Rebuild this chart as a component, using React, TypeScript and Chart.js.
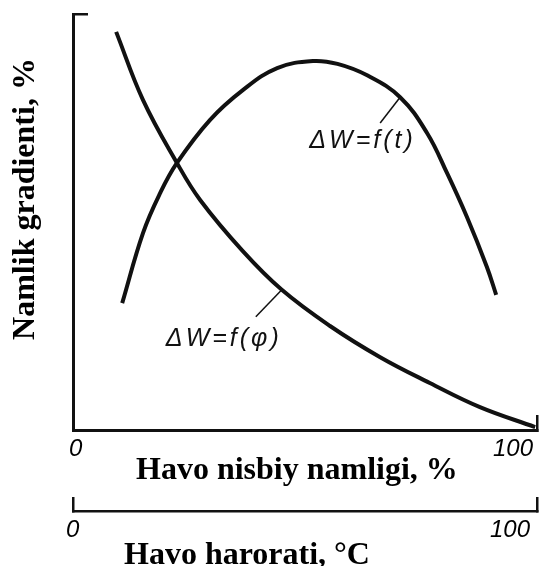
import React, { useEffect, useRef } from 'react';
import { Chart, registerables } from 'chart.js';

Chart.register(...registerables);

// Axis extents and tick labels
const axisMin = 0;
const axisMax = 100;
const humidityTickLabels = ['0', '100'];
const temperatureTickLabels = ['0', '100'];

// Axis titles
const humidityTitle = 'Havo nisbiy namligi, %';
const temperatureTitle = 'Havo harorati, °C';
const gradientTitle = 'Namlik gradienti, %';

// ΔW = f(φ): moisture gradient vs relative humidity
const phiX = [9.3, 15.1, 22.4, 27.4, 36.6, 45.0, 55.4, 66.2, 76.9, 87.7, 99.6];
const phiY = [95.7, 79.3, 64.2, 55.3, 43.0, 33.7, 25.0, 17.5, 11.3, 5.5, 0.7];

// ΔW = f(t): moisture gradient vs air temperature
const tX = [10.6, 15.1, 18.8, 22.4, 29.5, 36.6, 44.0, 51.7, 57.0, 63.5, 70.5, 76.3, 80.6, 84.9, 89.2, 91.2];
const tY = [30.5, 47.4, 57.0, 64.2, 74.5, 81.7, 87.0, 88.7, 88.0, 85.2, 80.0, 71.4, 61.8, 51.2, 39.2, 32.5];

// Curve labels with leader lines (data coordinates)
const curveLabels = ['ΔW=f(t)', 'ΔW=f(φ)'];
const curveLabelScales = ['x2', 'x'];
const leaderFrom = [[70.5, 80.0], [45.0, 33.7]];
const leaderTo = [[66.2, 73.8], [39.4, 27.2]];
const labelAt = [[62.4, 69.5], [32.5, 21.8]];

const INK = '#111';

const annotationPlugin = {
  id: 'curveNotesAndTitles',
  afterDraw(chart: any) {
    const { ctx, chartArea, scales } = chart;
    const y = scales.y;
    ctx.save();
    // leader lines and curve labels
    curveLabels.forEach((text, i) => {
      const xs = scales[curveLabelScales[i]];
      ctx.strokeStyle = INK;
      ctx.lineWidth = 1.5;
      ctx.beginPath();
      ctx.moveTo(xs.getPixelForValue(leaderFrom[i][0]), y.getPixelForValue(leaderFrom[i][1]));
      ctx.lineTo(xs.getPixelForValue(leaderTo[i][0]), y.getPixelForValue(leaderTo[i][1]));
      ctx.stroke();
      ctx.fillStyle = INK;
      ctx.font = 'italic 25px "Liberation Sans"';
      try { (ctx as any).letterSpacing = '3px'; } catch (e) {}
      ctx.textAlign = 'center';
      ctx.textBaseline = 'middle';
      ctx.fillText(text, xs.getPixelForValue(labelAt[i][0]), y.getPixelForValue(labelAt[i][1]));
    });
    try { (ctx as any).letterSpacing = '0px'; } catch (e) {}
    // axis titles
    ctx.fillStyle = '#000';
    ctx.font = 'bold 32px "Liberation Serif"';
    ctx.textAlign = 'left';
    ctx.textBaseline = 'alphabetic';
    const xs = scales.x;
    const xs2 = scales.x2;
    ctx.fillText(humidityTitle, xs.left + 63, xs.top + 49);
    ctx.fillText(temperatureTitle, xs2.left + 51, xs2.top + 53);
    ctx.translate(34, (chartArea.top + chartArea.bottom) / 2 - 23);
    ctx.rotate(-Math.PI / 2);
    ctx.textAlign = 'center';
    ctx.fillText(gradientTitle, 0, 0);
    ctx.restore();
  },
};

export default function App() {
  const canvasRef = useRef<HTMLCanvasElement | null>(null);

  useEffect(() => {
    if (!canvasRef.current) return;
    const tickFont = { family: '"Liberation Sans"', size: 24, style: 'italic' as const };
    const chart = new Chart(canvasRef.current, {
      type: 'line',
      data: {
        datasets: [
          {
            label: curveLabels[1],
            data: phiX.map((x, i) => ({ x, y: phiY[i] })),
            xAxisID: 'x',
            yAxisID: 'y',
            borderColor: INK,
            borderWidth: 4,
            pointRadius: 0,
            tension: 0.4,
            fill: false,
            clip: false as any,
          },
          {
            label: curveLabels[0],
            data: tX.map((x, i) => ({ x, y: tY[i] })),
            xAxisID: 'x2',
            yAxisID: 'y',
            borderColor: INK,
            borderWidth: 4,
            pointRadius: 0,
            tension: 0.4,
            fill: false,
            clip: false as any,
          },
        ],
      },
      options: {
        animation: false,
        responsive: true,
        maintainAspectRatio: false,
        devicePixelRatio: 1,
        layout: { padding: { left: 0, right: 4, top: 14, bottom: 0 } },
        plugins: { legend: { display: false }, tooltip: { enabled: false } },
        events: [],
        scales: {
          x: {
            type: 'linear',
            position: 'bottom',
            weight: 0,
            min: axisMin,
            max: axisMax,
            ticks: {
              stepSize: 100,
              align: 'inner',
              padding: 20,
              labelOffset: -4,
              color: '#000',
              font: tickFont,
              callback: (v: any) => humidityTickLabels[[axisMin, axisMax].indexOf(Number(v))] ?? '',
            },
            grid: {
              drawOnChartArea: false,
              tickLength: -15,
              lineWidth: 2.5,
              color: (c: any) => (c.tick && c.tick.value === axisMax ? INK : 'rgba(0,0,0,0)'),
            },
            border: { color: INK, width: 3 },
            afterFit: (s: any) => { s.height = 81; s.paddingLeft = 0; s.paddingRight = 0; },
          },
          x2: {
            type: 'linear',
            position: 'bottom',
            weight: 1,
            min: axisMin,
            max: axisMax,
            ticks: {
              stepSize: 100,
              align: 'inner',
              padding: 19,
              labelOffset: -7,
              color: '#000',
              font: tickFont,
              callback: (v: any) => temperatureTickLabels[[axisMin, axisMax].indexOf(Number(v))] ?? '',
            },
            grid: {
              drawOnChartArea: false,
              tickLength: -14,
              lineWidth: 2.5,
              color: INK,
            },
            border: { color: INK, width: 2.5 },
            afterFit: (s: any) => { s.height = 55; s.paddingLeft = 0; s.paddingRight = 0; },
          },
          y: {
            type: 'linear',
            position: 'left',
            min: axisMin,
            max: axisMax,
            ticks: { display: false, stepSize: 100 },
            grid: {
              drawOnChartArea: false,
              tickLength: -15,
              lineWidth: 2.5,
              color: (c: any) => (c.tick && c.tick.value === axisMax ? INK : 'rgba(0,0,0,0)'),
            },
            border: { color: INK, width: 3 },
            afterFit: (s: any) => { s.width = 73; },
          },
        },
      } as any,
      plugins: [annotationPlugin],
    });
    return () => chart.destroy();
  }, []);

  return (
    <div style={{ position: 'absolute', left: 0, top: 0, width: 541, height: 566, background: '#fff' }}>
      <canvas ref={canvasRef} />
    </div>
  );
}
